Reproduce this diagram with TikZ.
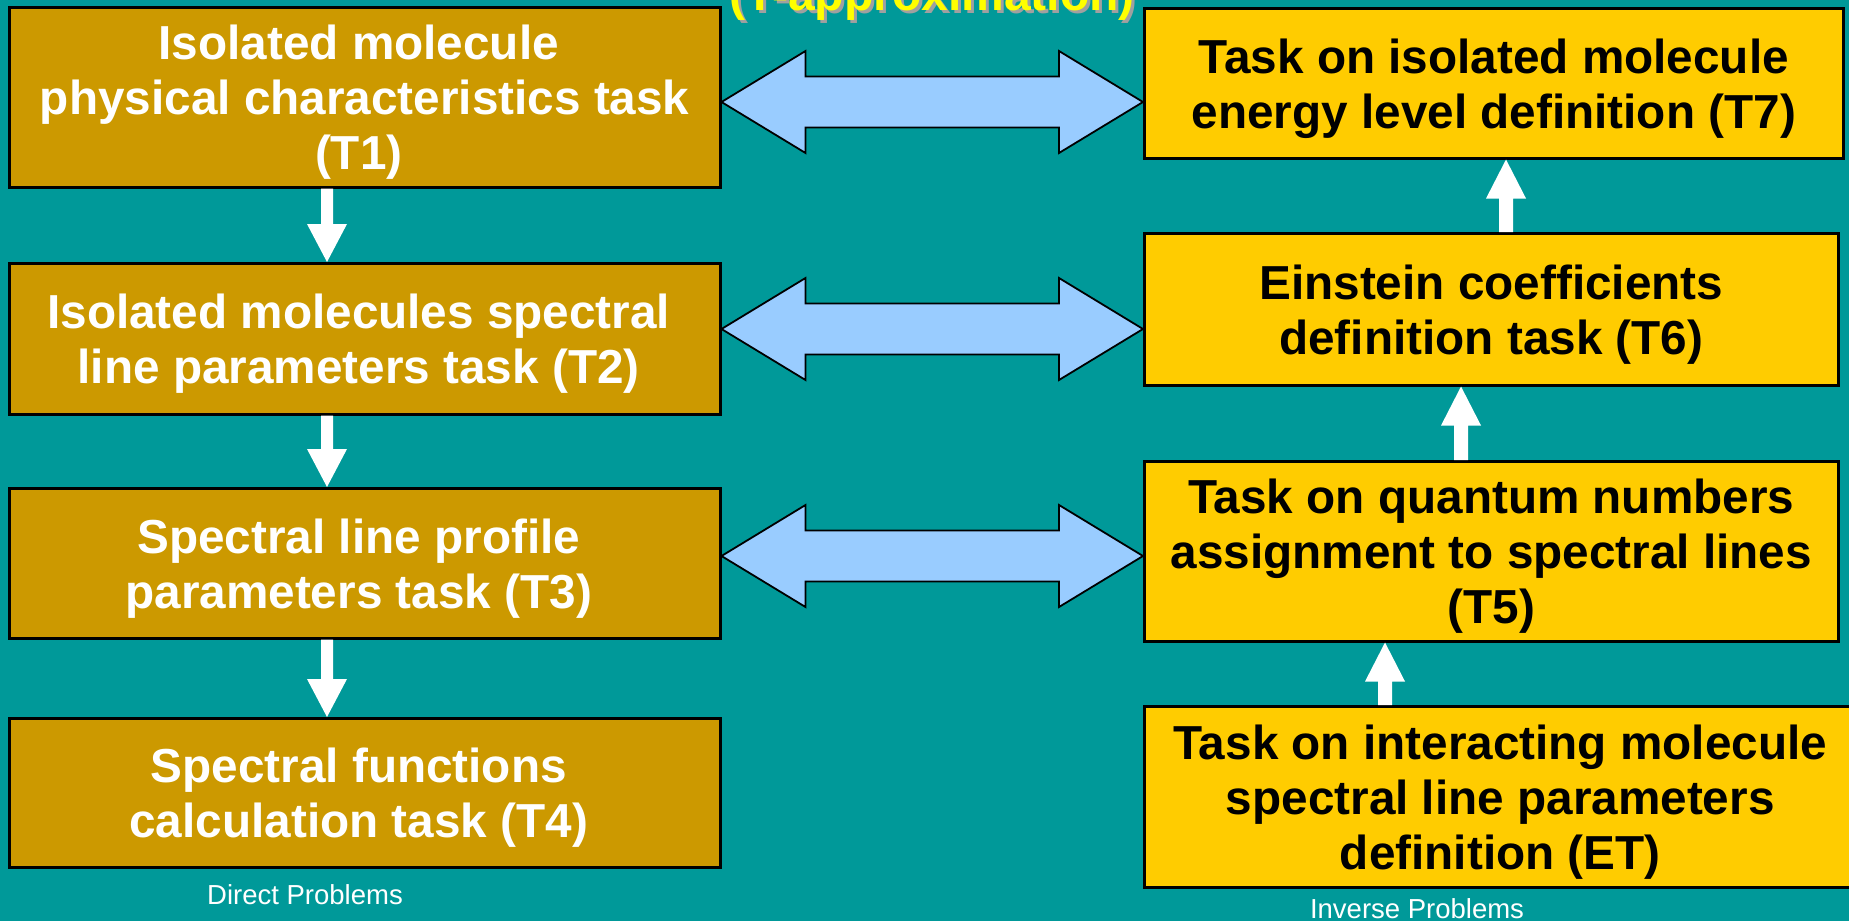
\documentclass[tikz,border=0pt]{standalone}
\usepackage{fontspec}
\setmainfont{Liberation Sans}
\usetikzlibrary{calc}
\definecolor{bg}{HTML}{009999}
\definecolor{dirbox}{HTML}{CC9900}
\definecolor{invbox}{HTML}{FFCC00}
\definecolor{barrow}{HTML}{99CCFF}
\definecolor{titley}{HTML}{FFFF00}
\definecolor{shadowg}{HTML}{A0A0A0}
% first-line strut (moves the text block a little down) and trailing space (moves it left)
\newcommand\fls{\rule{0pt}{45pt}}
\newcommand\tsp{\hspace*{12pt}}
\newcommand\dblarrow[2]{%
  \draw[bigarrow] (#1) -- ++(84,-51) -- ++(0,25.5) -- ($(#2)+(-84,-25.5)$) -- ++(0,-25.5) -- (#2)
    -- ++(-84,51) -- ++(0,-25.5) -- ($(#1)+(84,25.5)$) -- ++(0,25.5) -- cycle;}
\newcommand\wdown[2]{%
  \fill[white] ($(#1)+(-6,0)$) -- ($(#2)+(-6,-38)$) -- ($(#2)+(-20,-38)$) -- (#2)
    -- ($(#2)+(20,-38)$) -- ($(#2)+(6,-38)$) -- ($(#1)+(6,0)$) -- cycle;}
\newcommand\wup[2]{%
  \fill[white] ($(#1)+(-7,0)$) -- ($(#2)+(-7,39)$) -- ($(#2)+(-20,39)$) -- (#2)
    -- ($(#2)+(20,39)$) -- ($(#2)+(7,39)$) -- ($(#1)+(7,0)$) -- cycle;}
\begin{document}
\begin{tikzpicture}[x=1pt,y=-1pt,
  taskbox/.style={draw=black, line width=2.5pt, anchor=north west, inner sep=0pt, align=center,
    font=\bfseries\fontsize{47.7}{55}\selectfont},
  dirtask/.style={taskbox, fill=dirbox, text=white, minimum width=711pt},
  invtask/.style={taskbox, fill=invbox, text=black},
  bigarrow/.style={draw=black, line width=1.8pt, fill=barrow, line join=miter},
  smalllabel/.style={anchor=base, text=white, inner sep=0pt, font=\fontsize{27.5}{30}\selectfont},
  titletext/.style={anchor=base, inner sep=0pt, font=\bfseries\fontsize{48}{55}\selectfont}]
\useasboundingbox (0,0) rectangle (1849,921);
\clip (0,0) rectangle (1849,921);
\fill[bg] (0,0) rectangle (1849,921);

% title (cut off at the top)
\node[titletext, text=shadowg] (titleshadow) at (935,13) {(T-approximation)};
\node[titletext, text=titley] (title) at (932,10) {(T-approximation)};

% direct problems
\node[dirtask, minimum height=180pt] (T1) at (8,6) {\fls Isolated molecule\tsp\\physical characteristics task\tsp\\(T1)\tsp};
\node[dirtask, minimum height=151pt] (T2) at (8,262) {\fls Isolated molecules spectral\tsp\\line parameters task (T2)\tsp};
\node[dirtask, minimum height=150pt] (T3) at (8,487) {\fls Spectral line profile\tsp\\parameters task (T3)\tsp};
\node[dirtask, minimum height=149pt] (T4) at (8,717) {\fls Spectral functions\tsp\\calculation task (T4)\tsp};

% inverse problems
\node[invtask, minimum width=699pt, minimum height=150pt] (T7) at (1143,7) {\fls Task on isolated molecule\\energy level definition (T7)};
\node[invtask, minimum width=694pt, minimum height=152pt] (T6) at (1143,232) {\fls Einstein coefficients\\definition task (T6)};
\node[invtask, minimum width=694pt, minimum height=180pt] (T5) at (1143,460) {\fls Task on quantum numbers\\assignment to spectral lines\\(T5)};
\node[invtask, minimum width=712pt, minimum height=181pt] (ET) at (1143,705) {\fls Task on interacting molecule\\spectral line parameters\\definition (ET)};

\node[smalllabel] (dp) at (305,904) {Direct Problems};
\node[smalllabel] (ip) at (1417,918) {Inverse Problems};

% double arrows
\coordinate (a1l) at (T1.east |- 0,102);
\coordinate (a1r) at (T7.west |- 0,102);
\coordinate (a2l) at (T2.east |- 0,329);
\coordinate (a2r) at (T6.west |- 0,329);
\coordinate (a3l) at (T3.east |- 0,556);
\coordinate (a3r) at (T5.west |- 0,556);
\dblarrow{a1l}{a1r}
\dblarrow{a2l}{a2r}
\dblarrow{a3l}{a3r}

% white down arrows
\coordinate (d1s) at (T1.south -| 327,0);
\coordinate (d1e) at (T2.north -| 327,0);
\coordinate (d2s) at (T2.south -| 327,0);
\coordinate (d2e) at (T3.north -| 327,0);
\coordinate (d3s) at (T3.south -| 327,0);
\coordinate (d3e) at (T4.north -| 327,0);
\wdown{d1s}{d1e}
\wdown{d2s}{d2e}
\wdown{d3s}{d3e}

% white up arrows
\coordinate (u1s) at (T6.north -| 1506,0);
\coordinate (u1e) at (T7.south -| 1506,0);
\coordinate (u2s) at (T5.north -| 1461,0);
\coordinate (u2e) at (T6.south -| 1461,0);
\coordinate (u3s) at (ET.north -| 1385,0);
\coordinate (u3e) at (T5.south -| 1385,0);
\wup{u1s}{u1e}
\wup{u2s}{u2e}
\wup{u3s}{u3e}
\end{tikzpicture}
\end{document}
